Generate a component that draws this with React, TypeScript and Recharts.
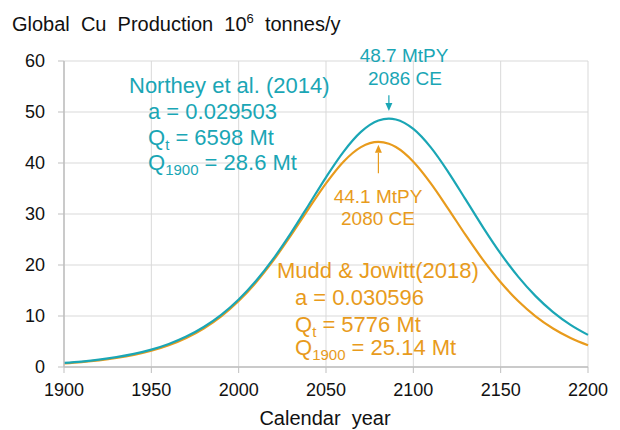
import React from 'react';
import { LineChart, Line, XAxis, YAxis, CartesianGrid, ReferenceLine } from 'recharts';

const years = [1900, 1910, 1920, 1930, 1940, 1950, 1960, 1970, 1980, 1990, 2000, 2010, 2020, 2030, 2040, 2050, 2060, 2070, 2080, 2086, 2090, 2100, 2110, 2120, 2130, 2140, 2150, 2160, 2170, 2180, 2190, 2200];
const northey = [0.8, 1.07, 1.43, 1.92, 2.56, 3.4, 4.51, 5.96, 7.84, 10.23, 13.23, 16.91, 21.29, 26.3, 31.72, 37.2, 42.19, 46.09, 48.32, 48.7, 48.53, 46.68, 43.06, 38.23, 32.81, 27.34, 22.23, 17.72, 13.9, 10.77, 8.27, 6.3];
const mudd = [0.71, 0.96, 1.3, 1.76, 2.37, 3.19, 4.27, 5.7, 7.56, 9.94, 12.94, 16.61, 20.95, 25.84, 31.01, 36.01, 40.26, 43.12, 44.15, 43.78, 43.13, 40.26, 36.02, 31.02, 25.84, 20.95, 16.61, 12.94, 9.94, 7.56, 5.7, 4.27];

const xTicks = [1900, 1950, 2000, 2050, 2100, 2150, 2200];
const xMinorTicks = [1925, 1975, 2025, 2075, 2125, 2175];
const yTicks = [0, 10, 20, 30, 40, 50, 60];
const yMinorTicks = [2.5, 5, 7.5, 12.5, 15, 17.5, 22.5, 25, 27.5, 32.5, 35, 37.5, 42.5, 45, 47.5, 52.5, 55, 57.5];

const northeyPeak = { year: 2086, value: 48.7, arrowFrom: 53.3, arrowTo: 50.2 };
const muddPeak = { year: 2080, value: 44.1, arrowFrom: 38.0, arrowTo: 43.6 };

const data = years.map((y, i) => ({ year: y, northey: northey[i], mudd: mudd[i] }));

const TEAL = '#1aa6b5';
const ORANGE = '#e89b1c';
const FONT = '"Liberation Sans", Arial, sans-serif';

const makeArrow = (color: string) => (p: any) => {
  const { x1, y1, x2, y2 } = p;
  const dir = y2 > y1 ? 1 : -1;
  const head = 8;
  const hw = 3.5;
  return (
    <g>
      <line x1={x1} y1={y1} x2={x2} y2={y2 - dir * head} stroke={color} strokeWidth={1.2} />
      <polygon points={`${x2},${y2} ${x2 - hw},${y2 - dir * head} ${x2 + hw},${y2 - dir * head}`} fill={color} />
    </g>
  );
};

export default function App() {
  return (
    <div style={{ position: 'absolute', left: 0, top: 0, width: 620, height: 430, background: '#fff', fontFamily: FONT }}>
      <LineChart width={620} height={430} data={data} margin={{ top: 61, right: 32, bottom: 33, left: 0 }}>
        <CartesianGrid stroke="#d9d9d9" strokeWidth={1} />
        <XAxis xAxisId="minor" dataKey="year" type="number" domain={[1900, 2200]} ticks={xMinorTicks} height={0} mirror axisLine={false} tick={false} tickSize={4} tickLine={{ stroke: '#bfbfbf' }} />
        <XAxis dataKey="year" type="number" domain={[1900, 2200]} ticks={xTicks} height={30} tickSize={6} tickMargin={10}
          axisLine={{ stroke: '#bfbfbf', strokeWidth: 1.5 }} tickLine={{ stroke: '#bfbfbf' }}
          tick={{ fill: '#111', fontSize: 18, fontFamily: FONT }} interval={0} />
        <YAxis yAxisId="minor" type="number" domain={[0, 60]} ticks={yMinorTicks} width={0} mirror axisLine={false} tick={false} tickSize={4} tickLine={{ stroke: '#bfbfbf' }} />
        <YAxis type="number" domain={[0, 60]} ticks={yTicks} width={64} tickSize={6} tickMargin={13}
          axisLine={{ stroke: '#bfbfbf', strokeWidth: 1.5 }} tickLine={{ stroke: '#bfbfbf' }}
          tick={{ fill: '#111', fontSize: 18, fontFamily: FONT }} interval={0} />
        <Line dataKey="mudd" type="monotone" stroke={ORANGE} strokeWidth={2.2} dot={false} isAnimationActive={false} />
        <Line dataKey="northey" type="monotone" stroke={TEAL} strokeWidth={2.2} dot={false} isAnimationActive={false} />
        <ReferenceLine segment={[{ x: northeyPeak.year, y: northeyPeak.arrowFrom }, { x: northeyPeak.year, y: northeyPeak.arrowTo }]} shape={makeArrow(TEAL)} ifOverflow="visible" />
        <ReferenceLine segment={[{ x: muddPeak.year, y: muddPeak.arrowFrom }, { x: muddPeak.year, y: muddPeak.arrowTo }]} shape={makeArrow(ORANGE)} ifOverflow="visible" />
      </LineChart>
      <svg width={620} height={430} style={{ position: 'absolute', left: 0, top: 0, pointerEvents: 'none' }} fontFamily={FONT}>
        <text x={12} y={31} fontSize={20} fill="#111" style={{ whiteSpace: 'pre' }}>
          Global  Cu  Production  10<tspan dy={-8} fontSize={13}>6</tspan><tspan dy={8}>  tonnes/y</tspan>
        </text>
        <text x={325} y={425} fontSize={20} fill="#111" textAnchor="middle" style={{ whiteSpace: 'pre' }}>Calendar  year</text>

        <g fill={TEAL} fontSize={22}>
          <text x={129} y={93}>Northey et al. (2014)</text>
          <text x={148} y={119}>a = 0.029503</text>
          <text x={148} y={145}>Q<tspan dy={5} fontSize={15}>t</tspan><tspan dy={-5}> = 6598 Mt</tspan></text>
          <text x={148} y={170}>Q<tspan dy={5} fontSize={15}>1900</tspan><tspan dy={-5}> = 28.6 Mt</tspan></text>
        </g>
        <g fill={TEAL} fontSize={19} textAnchor="middle">
          <text x={404} y={62}>{northeyPeak.value.toFixed(1)} MtPY</text>
          <text x={405} y={85}>{northeyPeak.year} CE</text>
        </g>
        <g fill={ORANGE} fontSize={19} textAnchor="middle">
          <text x={378} y={203}>{muddPeak.value.toFixed(1)} MtPY</text>
          <text x={378} y={225}>{muddPeak.year} CE</text>
        </g>
        <g fill={ORANGE} fontSize={22}>
          <text x={277} y={278}>Mudd &amp; Jowitt(2018)</text>
          <text x={295} y={305}>a = 0.030596</text>
          <text x={295} y={332}>Q<tspan dy={5} fontSize={15}>t</tspan><tspan dy={-5}> = 5776 Mt</tspan></text>
          <text x={295} y={355}>Q<tspan dy={5} fontSize={15}>1900</tspan><tspan dy={-5}> = 25.14 Mt</tspan></text>
        </g>
      </svg>
    </div>
  );
}
